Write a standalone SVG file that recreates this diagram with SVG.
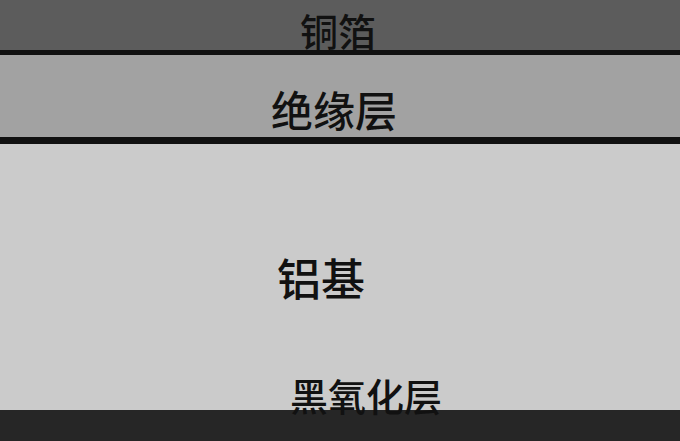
<svg xmlns="http://www.w3.org/2000/svg" width="680" height="441" viewBox="0 0 680 441">
<style>
.t{font-family:"Noto Sans CJK SC","Noto Sans",sans-serif;fill:#111;text-anchor:middle;font-weight:500}
</style>
<rect x="0" y="0" width="680" height="50" fill="#5c5c5c"/>
<rect x="0" y="50" width="680" height="5" fill="#111"/>
<rect x="0" y="55" width="680" height="82" fill="#a2a2a2"/>
<rect x="0" y="137" width="680" height="7" fill="#111"/>
<rect x="0" y="144" width="680" height="266" fill="#cbcbcb"/>
<rect x="0" y="410" width="680" height="31" fill="#262626"/>
<text class="t" x="338" y="46" font-size="38">铜箔</text>
<text class="t" x="334" y="127" font-size="42">绝缘层</text>
<text class="t" x="321" y="296" font-size="44">铝基</text>
<text class="t" x="366" y="411" font-size="38">黑氧化层</text>
</svg>
